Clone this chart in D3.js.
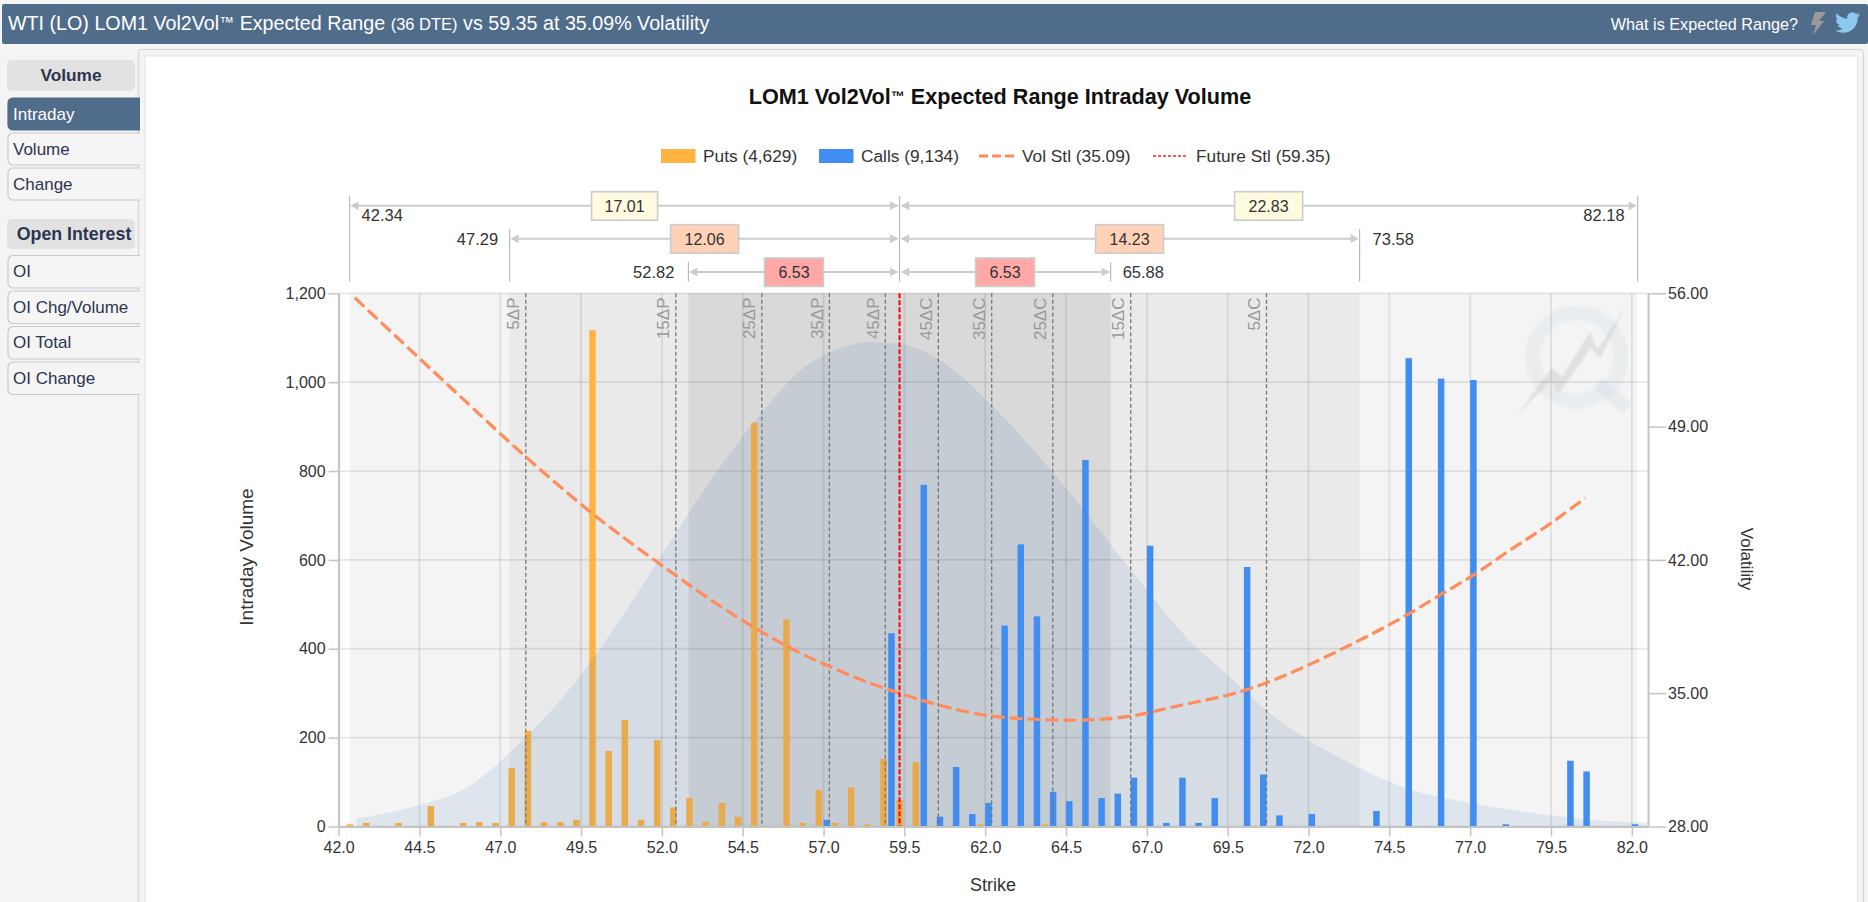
<!DOCTYPE html>
<html>
<head>
<meta charset="utf-8">
<title>LOM1 Vol2Vol Expected Range</title>
<script src="https://cdn.jsdelivr.net/npm/d3@7"></script>
<style>
  html, body { margin: 0; padding: 0; background: #f4f4f4; overflow: hidden; }
  svg { display: block; }
  text { font-family: "Liberation Sans", Arial, sans-serif; }
</style>
</head>
<body>
<div id="graph"></div>
<script>
// chart data
const putStrikes = [42, 42.5, 43.5, 44.5, 45.5, 46, 46.5, 47, 47.5, 48, 48.5, 49, 49.5, 50, 50.5, 51, 51.5, 52, 52.5, 53, 53.5, 54, 54.5, 55.5, 56, 56.5, 57, 57.5, 58, 58.5, 59, 59.5, 61.5, 63.5];
const putVolumes = [5, 8, 8, 46, 8, 10, 8, 131, 215, 10, 10, 15, 1117, 170, 240, 15, 194, 43, 64, 11, 53, 22, 909, 466, 8, 82, 8, 88, 5, 152, 60, 145, 5, 5];
const callStrikes = [57, 59, 60, 60.5, 61, 61.5, 62, 62.5, 63, 63.5, 64, 64.5, 65, 65.5, 66, 66.5, 67, 67.5, 68, 68.5, 69, 70, 70.5, 71, 72, 74, 75, 76, 77, 78, 80, 80.5, 82];
const callVolumes = [15, 435, 769, 22, 134, 28, 53, 452, 635, 473, 78, 57, 825, 64, 74, 110, 632, 8, 110, 8, 64, 584, 117, 25, 28, 35, 1054, 1008, 1005, 5, 148, 124, 5];

const volStrikes = [42.5, 45.88, 47.8, 49.78, 51.84, 54.9, 55.9, 57.18, 58.13, 59.35, 60.56, 62.2, 64.09, 64.75, 66.52, 67.84, 70.06, 70.7, 71.93, 72.97, 75.04, 76.07, 77.1, 78.13, 79.47, 80.55];
const volValues = [55.77, 50.4, 47.4, 44.53, 41.9, 38.4, 37.44, 36.4, 35.73, 35.0, 34.38, 33.8, 33.6, 33.58, 33.8, 34.29, 35.17, 35.55, 36.43, 37.27, 39.11, 40.16, 41.2, 42.4, 43.9, 45.24];

const curveStrikes = [42.56, 44.73, 45.84, 46.95, 47.8, 48.95, 49.8, 50.63, 51.9, 53.3, 55.03, 56.3, 57.17, 58.45, 59.35, 60.6, 62.2, 64.1, 65, 66.5, 68.3, 69.5, 70.7, 71.9, 73.6, 75.2, 77, 79.4, 81.5, 82.5];
const curveValues = [18, 53, 82, 143, 202, 292, 371, 458, 600, 757, 926, 1027, 1066, 1090, 1086, 1050, 948, 796, 717, 577, 420, 341, 262, 199, 131, 82, 53, 26, 11, 9];

const deltaLabels = ["5ΔP", "15ΔP", "25ΔP", "35ΔP", "45ΔP", "45ΔC", "35ΔC", "25ΔC", "15ΔC", "5ΔC"];
const deltaStrikes = [47.79, 52.43, 55.09, 57.18, 58.91, 60.55, 62.2, 64.09, 66.5, 70.7];

const rangeLows = [42.34, 47.29, 52.82];
const rangeHighs = [82.18, 73.58, 65.88];
const rangePutSizes = ["17.01", "12.06", "6.53"];
const rangeCallSizes = ["22.83", "14.23", "6.53"];
const futureStl = 59.35;

const xTicks = [42, 44.5, 47, 49.5, 52, 54.5, 57, 59.5, 62, 64.5, 67, 69.5, 72, 74.5, 77, 79.5, 82];
const yTicks = [0, 200, 400, 600, 800, 1000, 1200];
const volTicks = [28, 35, 42, 49, 56];

const sideGroups = ["Volume", "Open Interest"];
const volumeItems = ["Intraday", "Volume", "Change"];
const oiItems = ["OI", "OI Chg/Volume", "OI Total", "OI Change"];

// layout
const width = 1868, height = 902;
const plotLeft = 338.6, plotRight = 1648, plotTop = 293.3, plotBottom = 826.5;
const barW = 6.5, putOffset = 8.2;
const textColor = "#333";
const orange = "#ffb340", blue = "#428ef0", volColor = "#ff8c5a";

const x = d3.scaleLinear().domain([42, 82.5]).range([plotLeft, plotRight]);
const y = d3.scaleLinear().domain([0, 1200]).range([plotBottom, plotTop]);
const yVol = d3.scaleLinear().domain([28, 56]).range([plotBottom, plotTop]);

const svg = d3.select("#graph").append("svg")
    .attr("width", width)
    .attr("height", height);

// small raised TM, the font's own glyph is too wide at full size
const appendTm = (t, size) => {
  t.append("tspan").attr("font-size", size).attr("dy", -3).text("™");
  return t.append("tspan").attr("dy", 3);
};

// header bar
svg.append("rect").attr("x", 2).attr("y", 4).attr("width", width - 2).attr("height", 40).attr("rx", 2).attr("fill", "#506c8b");
const headTitle = svg.append("text").attr("x", 8).attr("y", 29.5).attr("fill", "#fff").attr("font-size", "19.7px");
headTitle.append("tspan").text("WTI (LO) LOM1 Vol2Vol");
appendTm(headTitle, "15px").text(" Expected Range ");
headTitle.append("tspan").attr("font-size", "16.5px").text("(36 DTE)");
headTitle.append("tspan").text(" vs 59.35 at 35.09% Volatility");
svg.append("text").attr("x", 1798).attr("y", 29.5).attr("text-anchor", "end").attr("fill", "#fff").attr("font-size", "16.2px").text("What is Expected Range?");
// lightning + bird icons
svg.append("path")
    .attr("d", "M1826 12 L1815 12 L1811 25 L1816 25 L1813 35 L1824 21 L1819 21 Z")
    .attr("fill", "#9a9a9a");
svg.append("path")
    .attr("transform", "translate(1835,10) scale(1.05)")
    .attr("d", "M23.953 4.57a10 10 0 01-2.825.775 4.958 4.958 0 002.163-2.723c-.951.555-2.005.959-3.127 1.184a4.92 4.92 0 00-8.384 4.482C7.69 8.095 4.067 6.13 1.64 3.162a4.822 4.822 0 00-.666 2.475c0 1.71.87 3.213 2.188 4.096a4.904 4.904 0 01-2.228-.616v.06a4.923 4.923 0 003.946 4.827 4.996 4.996 0 01-2.212.085 4.936 4.936 0 004.604 3.417 9.867 9.867 0 01-6.102 2.105c-.39 0-.779-.023-1.17-.067a13.995 13.995 0 007.557 2.209c9.053 0 13.998-7.496 13.998-13.985 0-.21 0-.42-.015-.63A9.935 9.935 0 0024 4.59z")
    .attr("fill", "#8ec7f2");

// panel outer frame goes under the sidebar tabs
svg.append("rect").attr("x", 138.5).attr("y", 49.5).attr("width", 1725).attr("height", 900).attr("rx", 3)
    .attr("fill", "#f4f4f4").attr("stroke", "#d5d5dc").attr("stroke-width", 1.2);

// sidebar
const drawSideHead = (label, xMid, yPos, h, size) => {
  svg.append("rect").attr("x", 7).attr("y", yPos).attr("width", 128).attr("height", h).attr("rx", 5).attr("fill", "#e2e2e2");
  svg.append("text").attr("x", xMid).attr("y", yPos + h / 2 + 5.5).attr("text-anchor", "middle")
      .attr("font-weight", "bold").attr("font-size", size).attr("fill", "#2c3550").text(label);
};
const drawSideItem = (label, yPos, h, active) => {
  svg.append("rect").attr("x", 8).attr("y", yPos).attr("width", 140).attr("height", h).attr("rx", 5)
      .attr("fill", active ? "#506c8b" : "#f5f5f5").attr("stroke", active ? "#506c8b" : "#c8c8d2").attr("stroke-width", 1.2);
  svg.append("text").attr("x", 13).attr("y", yPos + h / 2 + 5.5)
      .attr("font-size", "17px").attr("fill", active ? "#fff" : "#2c3550").text(label);
};
drawSideHead(sideGroups[0], 71, 60, 31, "17.3px");
[98, 133, 168].forEach((yPos, i) => drawSideItem(volumeItems[i], yPos, 32, i === 0));
drawSideHead(sideGroups[1], 74, 219, 30, "17.8px");
[255.5, 291, 326.5, 362].forEach((yPos, i) => drawSideItem(oiItems[i], yPos, 32.5, false));

// the tabs stop at 140, panel wall covers the rest
svg.append("rect").attr("x", 140).attr("y", 50).attr("width", 6).attr("height", 852).attr("fill", "#f4f4f4");
svg.append("rect").attr("x", 145).attr("y", 56).attr("width", 1712.5).attr("height", 900)
    .attr("fill", "#fff").attr("stroke", "#e4e4e4");

// title
const chartTitle = svg.append("text").attr("x", 1000).attr("y", 103.5).attr("text-anchor", "middle")
    .attr("font-weight", "bold").attr("font-size", "21.6px").attr("fill", "#111");
chartTitle.append("tspan").text("LOM1 Vol2Vol");
appendTm(chartTitle, "14px").text(" Expected Range Intraday Volume");

// legend
const legendText = (xPos, label) => svg.append("text").attr("x", xPos).attr("y", 162)
    .attr("font-size", "17.3px").attr("fill", textColor).text(label);
svg.append("rect").attr("x", 661).attr("y", 149).attr("width", 34.5).attr("height", 14).attr("fill", orange);
legendText(703, "Puts (4,629)");
svg.append("rect").attr("x", 819).attr("y", 149).attr("width", 34.5).attr("height", 14).attr("fill", blue);
legendText(861, "Calls (9,134)");
svg.append("line").attr("x1", 979).attr("x2", 1014).attr("y1", 156).attr("y2", 156)
    .attr("stroke", volColor).attr("stroke-width", 3).attr("stroke-dasharray", "9,4");
legendText(1022, "Vol Stl (35.09)");
svg.append("line").attr("x1", 1153).attr("x2", 1188).attr("y1", 156).attr("y2", 156)
    .attr("stroke", "#ff2020").attr("stroke-width", 1.5).attr("stroke-dasharray", "3,2");
legendText(1196, "Future Stl (59.35)");

// shaded ranges, widest first
["#f4f4f4", "#eaeaea", "#d9d9d9"].forEach((fill, i) => {
  svg.append("rect")
      .attr("x", x(rangeLows[i]))
      .attr("y", plotTop)
      .attr("width", x(rangeHighs[i]) - x(rangeLows[i]))
      .attr("height", plotBottom - plotTop)
      .attr("fill", fill);
});

// watermark
const logo = svg.append("g").style("filter", "blur(0.8px)");
logo.append("circle").attr("cx", 1576.7).attr("cy", 356.7).attr("r", 44)
    .attr("fill", "none").attr("stroke", "#c5d3e0").attr("stroke-opacity", 0.2).attr("stroke-width", 15);
logo.append("line").attr("x1", 1598).attr("y1", 382).attr("x2", 1627).attr("y2", 409)
    .attr("stroke", "#c5d3e0").attr("stroke-opacity", 0.25).attr("stroke-width", 14);
logo.append("path")
    .attr("d", "M1517 415 L1552 368 L1562 377 L1590 332 L1597 350 L1625 308 L1600 358 L1591 348 L1558 394 L1551 380 Z")
    .attr("fill", "#bbb").attr("fill-opacity", 0.35);

// grid
svg.append("g").selectAll("line")
    .data(xTicks)
    .enter().append("line")
    .attr("x1", d => x(d)).attr("x2", d => x(d))
    .attr("y1", plotTop).attr("y2", plotBottom)
    .attr("stroke", "#000").attr("stroke-opacity", 0.09).attr("stroke-width", 1.8);
svg.append("g").selectAll("line")
    .data(yTicks)
    .enter().append("line")
    .attr("x1", plotLeft).attr("x2", plotRight)
    .attr("y1", d => y(d)).attr("y2", d => y(d))
    .attr("stroke", "#000").attr("stroke-opacity", 0.09).attr("stroke-width", 1.8);

// puts sit under the expected-range area, calls over it
svg.append("g").selectAll(".put")
    .data(putStrikes)
    .enter().append("rect")
    .attr("class", "put")
    .attr("x", d => x(d) + putOffset)
    .attr("y", (d, i) => y(putVolumes[i]))
    .attr("width", barW)
    .attr("height", (d, i) => plotBottom - y(putVolumes[i]))
    .attr("fill", orange);

const area = d3.area()
    .x(d => x(d))
    .y0(plotBottom)
    .y1((d, i) => y(curveValues[i]))
    .curve(d3.curveMonotoneX);
svg.append("path")
    .attr("d", area(curveStrikes))
    .attr("fill", "rgb(34,100,174)")
    .attr("fill-opacity", 0.1);

svg.append("g").selectAll(".call")
    .data(callStrikes)
    .enter().append("rect")
    .attr("class", "call")
    .attr("x", d => x(d))
    .attr("y", (d, i) => y(callVolumes[i]))
    .attr("width", barW)
    .attr("height", (d, i) => plotBottom - y(callVolumes[i]))
    .attr("fill", blue);

// delta guides
svg.append("g").selectAll("line")
    .data(deltaStrikes)
    .enter().append("line")
    .attr("x1", d => x(d)).attr("x2", d => x(d))
    .attr("y1", plotTop).attr("y2", plotBottom)
    .attr("stroke", "#777").attr("stroke-width", 1.3).attr("stroke-dasharray", "4,2.5");
svg.append("g").selectAll("text")
    .data(deltaStrikes)
    .enter().append("text")
    .attr("transform", d => `translate(${x(d) - 6.5},297.5) rotate(-90)`)
    .attr("text-anchor", "end")
    .attr("font-size", "17px")
    .attr("fill", "#999")
    .text((d, i) => deltaLabels[i]);

// vol curve + future line
const volLine = d3.line()
    .x(d => x(d))
    .y((d, i) => yVol(volValues[i]))
    .curve(d3.curveMonotoneX);
svg.append("path")
    .attr("d", volLine(volStrikes))
    .attr("fill", "none")
    .attr("stroke", volColor)
    .attr("stroke-width", 3.2)
    .attr("stroke-dasharray", "13,5");
svg.append("line")
    .attr("x1", x(futureStl)).attr("x2", x(futureStl))
    .attr("y1", plotTop).attr("y2", plotBottom)
    .attr("stroke", "#ff0000").attr("stroke-width", 2).attr("stroke-dasharray", "5,2");

// expected range brackets above the plot
const rowY = [205.7, 238.7, 272];
const rowTop = [196, 229, 262];
const rowFill = ["#fffbe0", "#ffd2b8", "#ffa8a8"];
const boxW = [[66, 68], [68, 68], [59, 59]];
const arrow = (xTip, yPos, dir) => {
  svg.append("path")
      .attr("d", d3.line()([[xTip, yPos], [xTip - dir * 8, yPos - 4.5], [xTip - dir * 8, yPos + 4.5]]))
      .attr("fill", "#ccc");
};
const rangeRow = (i) => {
  const lo = x(rangeLows[i]), hi = x(rangeHighs[i]), mid = x(futureStl);
  [lo, hi].forEach(v => {
    svg.append("line").attr("x1", v).attr("x2", v).attr("y1", rowTop[i]).attr("y2", 281.5)
        .attr("stroke", "#bbb").attr("stroke-width", 1.2);
  });
  svg.append("line").attr("x1", lo + 2).attr("x2", mid - 2).attr("y1", rowY[i]).attr("y2", rowY[i]).attr("stroke", "#ccc").attr("stroke-width", 2);
  svg.append("line").attr("x1", mid + 2).attr("x2", hi - 2).attr("y1", rowY[i]).attr("y2", rowY[i]).attr("stroke", "#ccc").attr("stroke-width", 2);
  arrow(lo + 1, rowY[i], -1);
  arrow(mid - 1.5, rowY[i], 1);
  arrow(mid + 1.5, rowY[i], -1);
  arrow(hi - 1, rowY[i], 1);
  [[(lo + mid) / 2, rangePutSizes[i], boxW[i][0]], [(mid + hi) / 2, rangeCallSizes[i], boxW[i][1]]].forEach(b => {
    svg.append("rect").attr("x", b[0] - b[2] / 2).attr("y", rowY[i] - 14).attr("width", b[2]).attr("height", 28.5)
        .attr("fill", rowFill[i]).attr("stroke", "#ccc").attr("stroke-width", 1.6);
    svg.append("text").attr("x", b[0]).attr("y", rowY[i] + 6).attr("text-anchor", "middle")
        .attr("font-size", "16px").attr("fill", textColor).text(b[1]);
  });
};
rangeLows.forEach((d, i) => rangeRow(i));
svg.append("line").attr("x1", x(futureStl)).attr("x2", x(futureStl)).attr("y1", 196).attr("y2", 281.5)
    .attr("stroke", "#bbb").attr("stroke-width", 1.2);

const endLabel = (xPos, yPos, anchor, label) => svg.append("text").attr("x", xPos).attr("y", yPos)
    .attr("text-anchor", anchor).attr("font-size", "16.5px").attr("fill", textColor).text(label);
endLabel(x(rangeLows[0]) + 12, 221, "start", rangeLows[0].toFixed(2));
endLabel(x(rangeLows[1]) - 11.5, 245, "end", rangeLows[1].toFixed(2));
endLabel(x(rangeLows[2]) - 14, 278, "end", rangeLows[2].toFixed(2));
endLabel(x(rangeHighs[0]) - 13, 221, "end", rangeHighs[0].toFixed(2));
endLabel(x(rangeHighs[1]) + 13, 245, "start", rangeHighs[1].toFixed(2));
endLabel(x(rangeHighs[2]) + 12, 278, "start", rangeHighs[2].toFixed(2));

// axes
const styleAxis = (g) => {
  g.selectAll("text").attr("font-size", "16px").attr("fill", textColor).style("font-family", '"Liberation Sans", Arial, sans-serif');
  g.selectAll("line").attr("stroke", "#c4c4c4").attr("stroke-width", 1.5);
  g.select(".domain").attr("stroke", "#c4c4c4").attr("stroke-width", 2);
};
svg.append("g")
    .attr("transform", `translate(0, ${plotBottom})`)
    .call(d3.axisBottom(x).tickValues(xTicks).tickFormat(d3.format(".1f")).tickSize(10).tickPadding(5).tickSizeOuter(0))
    .call(styleAxis);
svg.append("g")
    .attr("transform", `translate(${plotLeft}, 0)`)
    .call(d3.axisLeft(y).tickValues(yTicks).tickFormat(d3.format(",")).tickSize(10).tickPadding(3).tickSizeOuter(0))
    .call(styleAxis);
svg.append("g")
    .attr("transform", `translate(${plotRight}, 0)`)
    .call(d3.axisRight(yVol).tickValues(volTicks).tickFormat(d3.format(".2f")).tickSize(18).tickPadding(2).tickSizeOuter(0))
    .call(styleAxis);

svg.append("text").attr("x", 993).attr("y", 891).attr("text-anchor", "middle")
    .attr("font-size", "18px").attr("fill", textColor).text("Strike");
svg.append("text").attr("transform", "translate(253,557) rotate(-90)").attr("text-anchor", "middle")
    .attr("font-size", "19px").attr("fill", textColor).text("Intraday Volume");
svg.append("text").attr("transform", "translate(1741,559) rotate(90)").attr("text-anchor", "middle")
    .attr("font-size", "17px").attr("fill", textColor).text("Volatility");
</script>
</body>
</html>
